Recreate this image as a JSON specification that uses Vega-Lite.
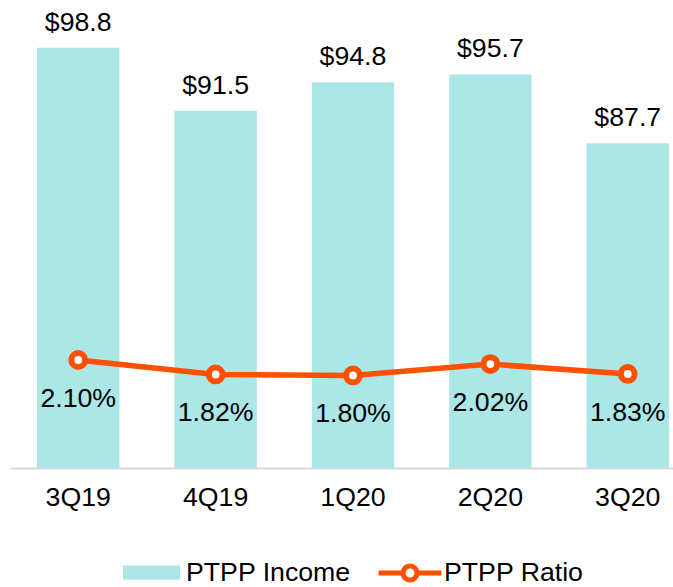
{
  "$schema": "https://vega.github.io/schema/vega-lite/v6.json",
  "width": 663,
  "height": 468,
  "autosize": {"type": "none"},
  "padding": {"left": 10, "top": 0, "right": 0, "bottom": 119},
  "background": "white",
  "config": {
    "view": {"stroke": null},
    "font": "Liberation Sans",
    "text": {"font": "Liberation Sans"}
  },
  "data": {
    "values": [
      {"quarter": "3Q19", "income": 98.8, "ratio": 0.0210},
      {"quarter": "4Q19", "income": 91.5, "ratio": 0.0182},
      {"quarter": "1Q20", "income": 94.8, "ratio": 0.0180},
      {"quarter": "2Q20", "income": 95.7, "ratio": 0.0202},
      {"quarter": "3Q20", "income": 87.7, "ratio": 0.0183}
    ]
  },
  "encoding": {
    "x": {
      "field": "quarter",
      "type": "nominal",
      "sort": null,
      "scale": {"paddingInner": 0.4, "paddingOuter": 0.113, "align": 0.87},
      "axis": {
        "title": null,
        "labelAngle": 0,
        "labelFont": "Liberation Sans",
        "labelFontSize": 26.7,
        "labelColor": "#000000",
        "labelPadding": 16,
        "ticks": false,
        "domainColor": "#D9D9D9",
        "domainWidth": 2
      }
    }
  },
  "layer": [
    {
      "layer": [
        {
          "mark": {"type": "bar", "clip": true},
          "encoding": {
            "y": {"field": "income", "type": "quantitative", "scale": {"domain": [50, 104.35], "zero": false, "nice": false}, "axis": null},
            "fill": {
              "datum": "PTPP Income",
              "type": "nominal",
              "scale": {"range": ["#ACE7E8"]},
              "legend": {
                "title": null,
                "orient": "none",
                "legendX": 113,
                "legendY": 544,
                "padding": 0,
                "symbolType": "M-1,-0.25H1V0.25H-1Z",
                "symbolSize": 3249,
                "symbolStrokeWidth": 0,
                "symbolOpacity": 1,
                "labelFont": "Liberation Sans",
                "labelFontSize": 26.7,
                "labelColor": "#000000",
                "labelOffset": 6,
                "labelLimit": 400
              }
            }
          }
        },
        {
          "mark": {"type": "text", "baseline": "alphabetic", "dy": -17, "fontSize": 26.7, "color": "#000000", "font": "Liberation Sans"},
          "encoding": {
            "y": {"field": "income", "type": "quantitative"},
            "text": {"field": "income", "type": "quantitative", "format": "$.1f"}
          }
        }
      ]
    },
    {
      "layer": [
        {
          "mark": {"type": "line", "strokeWidth": 5.5},
          "encoding": {
            "y": {"field": "ratio", "type": "quantitative", "scale": {"domain": [0, 0.091], "nice": false}, "axis": null},
            "stroke": {
              "datum": "PTPP Ratio",
              "type": "nominal",
              "scale": {"range": ["#FF5000"]},
              "legend": {
                "title": null,
                "orient": "none",
                "legendX": 366,
                "legendY": 539,
                "padding": 0,
                "symbolType": "M-1,0H-0.22M0.22,0H1M0.22,0A0.22,0.22 0 1,1 -0.22,0A0.22,0.22 0 1,1 0.22,0",
                "symbolSize": 3969,
                "symbolStrokeWidth": 5,
                "symbolStrokeColor": "#FF5000",
                "symbolFillColor": "#FFFFFF",
                "labelFont": "Liberation Sans",
                "labelFontSize": 26.7,
                "labelColor": "#000000",
                "labelOffset": 0,
                "labelLimit": 400
              }
            }
          }
        },
        {
          "mark": {"type": "point", "shape": "circle", "filled": true, "fill": "#FFFFFF", "stroke": "#FF5000", "strokeWidth": 6, "size": 190, "opacity": 1},
          "encoding": {
            "y": {"field": "ratio", "type": "quantitative"}
          }
        },
        {
          "mark": {"type": "text", "baseline": "alphabetic", "dy": 47, "fontSize": 26.7, "color": "#000000", "font": "Liberation Sans"},
          "encoding": {
            "y": {"field": "ratio", "type": "quantitative"},
            "text": {"field": "ratio", "type": "quantitative", "format": ".2%"}
          }
        }
      ]
    }
  ],
  "resolve": {"scale": {"y": "independent"}}
}
